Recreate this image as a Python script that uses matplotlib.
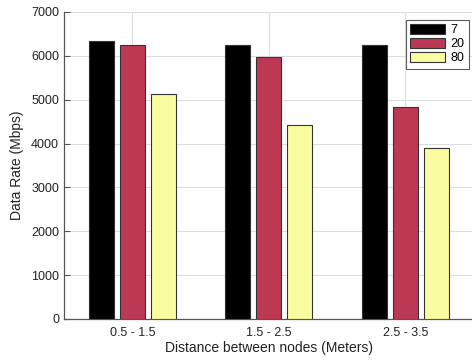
import matplotlib
matplotlib.use("Agg")
import matplotlib.pyplot as plt
import numpy as np

plt.rcParams['font.family'] = ['Liberation Sans', 'DejaVu Sans']

groups = ["0.5 - 1.5", "1.5 - 2.5", "2.5 - 3.5"]
series_labels = ["7", "20", "80"]
rate_7 = [6340, 6240, 6240]
rate_20 = [6240, 5980, 4840]
rate_80 = [5130, 4420, 3910]
colors = ["#000000", "#BD3853", "#FAFCA0"]

fig = plt.figure(figsize=(4.72, 3.6), dpi=100)
ax = fig.add_axes([0.1356, 0.1139, 0.8676, 0.8528])

x = np.arange(1, len(groups) + 1)
width = 0.183
step = 0.227
for i, (vals, lab, c) in enumerate(zip([rate_7, rate_20, rate_80], series_labels, colors)):
    ax.bar(x + (i - 1) * step, vals, width, color=c, edgecolor="#333333",
           linewidth=0.8, label=lab, zorder=3)

ax.set_xlim(0.5, 3.5)
ax.set_ylim(0, 7000)
ax.set_yticks(np.arange(0, 7001, 1000))
ax.set_xticks(x)
ax.set_xticklabels(groups)
ax.grid(True, color="#DDDDDD", linewidth=0.8, zorder=0)
ax.set_axisbelow(True)

for s in ["top", "right"]:
    ax.spines[s].set_visible(False)
for s in ["left", "bottom"]:
    ax.spines[s].set_color("#555555")
    ax.spines[s].set_linewidth(0.9)

ax.tick_params(axis="both", direction="in", length=4, color="#555555",
               labelsize=9, labelcolor="#222222")
ax.tick_params(axis="x", length=0, pad=6)

ax.set_ylabel("Data Rate (Mbps)", fontsize=10, color="#222222", labelpad=5)
ax.set_xlabel("Distance between nodes (Meters)", fontsize=10, color="#222222", labelpad=1)

leg = ax.legend(loc="upper right", bbox_to_anchor=(0.988, 0.975), fontsize=9,
                frameon=True, fancybox=False, edgecolor="#333333",
                handlelength=2.8, handleheight=0.8, handletextpad=0.4,
                borderpad=0.35, labelspacing=0.15, borderaxespad=0.0)
leg.get_frame().set_linewidth(0.8)

fig.savefig("out.png", dpi=100)
